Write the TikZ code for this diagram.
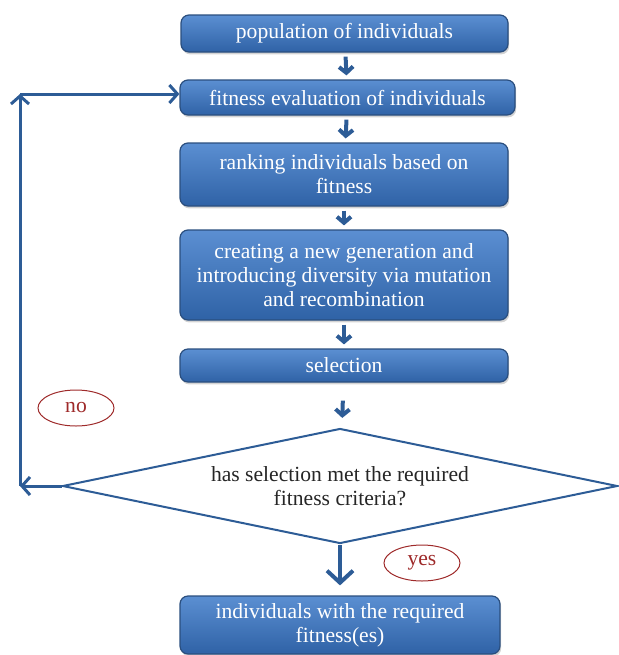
\documentclass[tikz,border=0pt]{standalone}
\usepackage{fontspec}
\setmainfont{Liberation Serif}
\usetikzlibrary{arrows.meta,shapes.geometric,shadows,positioning}
\definecolor{boxtop}{HTML}{5B8FD2}
\definecolor{boxbot}{HTML}{2F62A6}
\definecolor{boxline}{HTML}{2A4E7E}
\definecolor{flow}{HTML}{2D5C96}
\definecolor{tag}{HTML}{9E2A2A}
\tikzset{step box/.style={rectangle,rounded corners=4pt,top color=boxtop,bottom color=boxbot,
    draw=boxline,line width=0.6pt,text=white,align=center,inner sep=1pt,
    drop shadow={opacity=0.35,shadow xshift=0.6pt,shadow yshift=-1.2pt}}}
\tikzset{chevron/.style={flow,line width=2pt,-{Straight Barb[length=3pt,width=7pt]},
    shorten <=2pt,shorten >=2pt}}
\begin{document}
\begin{tikzpicture}[
    x=0.5pt,y=-0.5pt,
    font=\fontsize{10.8}{12}\selectfont,
    loopline/.style={flow,line width=1.5pt,-{Straight Barb[length=4pt,width=9pt]}},
    answer/.style={ellipse,draw=tag,line width=0.5pt,text=tag,minimum width=38pt,minimum height=18pt,inner sep=0pt}
    ]
    \useasboundingbox (0,0) rectangle (619,655);
    \node[step box,minimum width=163.5pt,minimum height=18.5pt](pop) at (344.5,33.5){population of individuals};
    \node[step box,minimum width=167.5pt,minimum height=17.5pt](fit) at (347.5,97.5){fitness evaluation of individuals};
    \node[step box,minimum width=164pt,minimum height=31.5pt](rank) at (344,174.5){ranking individuals based on\\fitness};
    \node[step box,minimum width=164pt,minimum height=45pt](create) at (344,275){creating a new generation and\\introducing diversity via mutation\\and recombination};
    \node[step box,minimum width=164pt,minimum height=16.5pt](sel) at (344,365.5){selection};
    \node[diamond,aspect=4.83,draw=flow,line width=1pt,fill=white,minimum width=277.5pt,minimum height=57.5pt,
        align=center,text=black!85,inner sep=0pt](dec) at (340,486){has selection met the required\\fitness criteria?};
    \node[step box,minimum width=160pt,minimum height=29pt](final) at (340,625){individuals with the required\\fitness(es)};
    \node[answer](no) at (76,408){no};
    \node[answer](yes) at (422,563){yes};
    \coordinate (lb) at (20,486);
    \coordinate (lt) at (20,94);
    % main chain
    \draw[chevron] (pop) -- (fit);
    \draw[chevron] (fit) -- (rank);
    \draw[chevron] (rank) -- (create);
    \draw[chevron] (create) -- (sel);
    \draw[chevron,shorten <=9pt,shorten >=5pt] (sel) -- (dec);
    \draw[flow,line width=2pt,-{Straight Barb[length=6pt,width=13pt]},shorten >=5pt] (dec.south) -- (final);
    % back to evaluation
    \draw[loopline] (dec.west) -- (lb);
    \draw[loopline] (lb) -- (lt);
    \draw[loopline] (lt) -- (lt -| fit.west);
\end{tikzpicture}
\end{document}
